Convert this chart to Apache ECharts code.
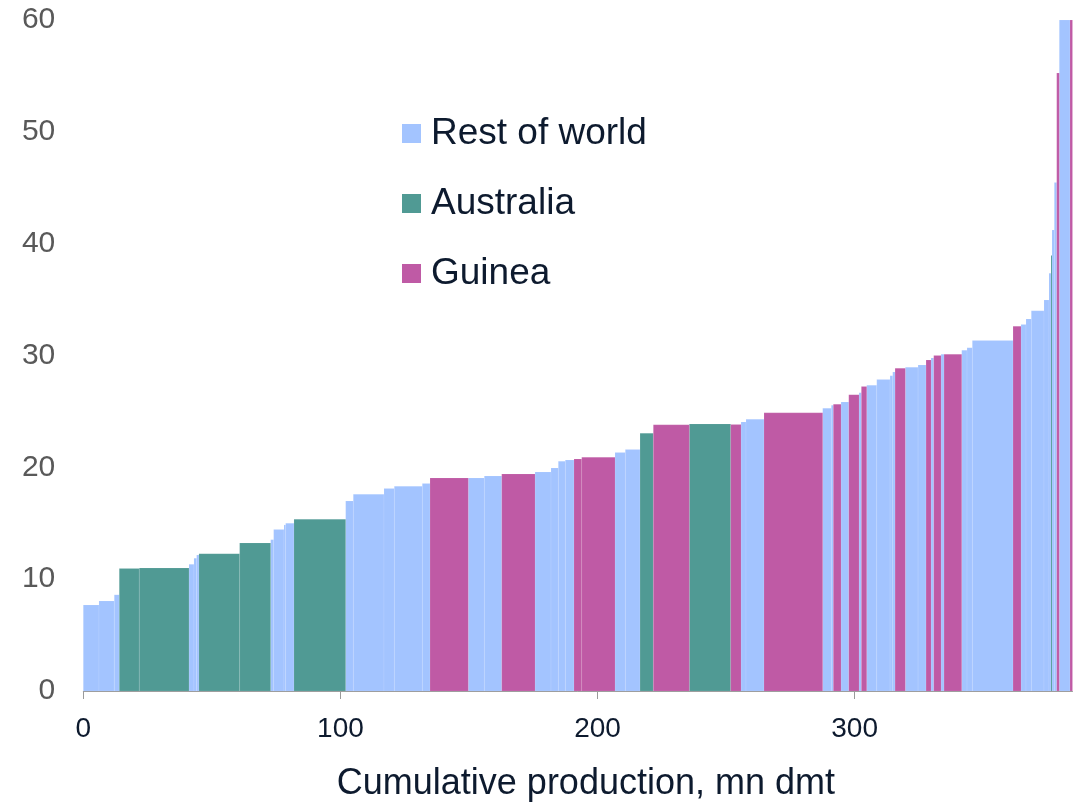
<!DOCTYPE html>
<html>
<head>
<meta charset="utf-8">
<script src="https://cdn.jsdelivr.net/npm/echarts@6/dist/echarts.min.js"></script>
<style>html,body{margin:0;padding:0;background:#fff}#c{width:1076px;height:803px}</style>
</head>
<body>
<div id="c"></div>
<script>
// Production of each mine (mn dmt), in cost order
const widths = [6.1,5.95,1.94,7.78,19.33,1.94,1.05,0.89,15.83,12.06,1.17,4.01,0.66,3.23,20.11,2.96,11.94,4.01,10.89,3.0,14.9,6.22,6.77,12.95,6.22,2.84,2.72,3.38,3.0,12.95,4.01,5.72,5.17,14.0,16.1,4.01,1.94,7.0,22.83,3.35,0.78,3.0,3.0,4.0,0.9,2.1,3.89,5.17,1.05,0.9,4.0,4.94,3.11,1.94,1.05,2.84,1.17,6.88,2.06,2.06,15.83,3.11,1.94,2.06,4.94,1.94,0.78,0.39,0.9,0.93,1.01,4.16,0.97];
// Cost of each mine
const costs = [7.7,8.05,8.6,10.95,11.0,11.33,11.87,12.16,12.28,13.24,13.53,14.43,14.85,15.0,15.35,17.0,17.59,18.1,18.3,18.55,19.05,19.05,19.23,19.41,19.59,19.95,20.54,20.66,20.75,20.9,21.32,21.6,23.05,23.8,23.88,23.82,24.06,24.3,24.87,25.29,25.55,25.65,25.84,26.5,26.66,27.23,27.34,27.85,28.18,28.53,28.86,28.95,29.16,29.6,29.78,30.0,30.11,30.11,30.47,30.69,31.35,32.61,32.77,33.27,34.0,34.97,37.36,38.94,41.23,45.47,55.25,62.0,65.0];
// Region of each mine: R = Rest of world, A = Australia, G = Guinea
const regions = ['R','R','R','A','A','R','R','R','A','A','R','R','R','R','A','R','R','R','R','R','G','R','R','G','R','R','R','R','G','G','R','R','A','G','A','G','R','R','G','R','R','G','R','G','R','G','R','R','R','R','G','R','R','G','R','G','R','G','R','R','R','G','R','R','R','R','R','A','R','R','G','R','G'];
const regionNames = {R: 'Rest of world', A: 'Australia', G: 'Guinea'};
const regionColors = {R: '#A3C4FF', A: '#509A94', G: '#BF5AA5'};
const xTicks = [0, 100, 200, 300];
const yMax = 60;

const seriesData = {R: [], A: [], G: []};
let cum = 0;
for (let i = 0; i < widths.length; i++) {
  const s = cum, e = cum + widths[i];
  seriesData[regions[i]].push([s, e, costs[i]]);
  cum = e;
}
const total = cum;

function renderItem(params, api) {
  const x0 = api.value(0), x1 = api.value(1), y = api.value(2);
  const p0 = api.coord([x0, 0]);
  const p1 = api.coord([x1, y]);
  const cs = params.coordSys;
  const rect = echarts.graphic.clipRectByRect(
    {x: p0[0], y: p1[1], width: p1[0] - p0[0], height: p0[1] - p1[1]},
    {x: cs.x, y: cs.y, width: cs.width, height: cs.height}
  );
  if (!rect) return;
  return {
    type: 'rect',
    shape: rect,
    style: {fill: api.visual('color'), stroke: 'rgba(255,255,255,0.12)', lineWidth: 0.8}
  };
}

const FONT = "'Liberation Sans', Arial, sans-serif";
const chart = echarts.init(document.getElementById('c'), null, {renderer: 'canvas'});
chart.setOption({
  animation: false,
  backgroundColor: '#ffffff',
  grid: {left: 83.3, right: 3.5, top: 20, bottom: 112, containLabel: false, outerBoundsMode: 'none'},
  legend: {
    orient: 'vertical',
    left: 402,
    top: 115,
    padding: 0,
    icon: 'rect',
    itemWidth: 19,
    itemHeight: 19,
    itemGap: 33,
    selectedMode: false,
    data: ['Rest of world', 'Australia', 'Guinea'],
    textStyle: {fontFamily: FONT, fontSize: 37, color: '#0D1A2E', padding: [0, 0, 0, 5]}
  },
  xAxis: {
    type: 'value',
    min: 0,
    max: total,
    interval: 100,
    name: 'Cumulative production, mn dmt',
    nameLocation: 'middle',
    nameGap: 75,
    nameTextStyle: {fontFamily: FONT, fontSize: 36, color: '#0D1A2E', padding: [0, 0, 0, 16]},
    splitLine: {show: false},
    axisLine: {show: true, lineStyle: {color: '#9A9A9A', width: 1}},
    axisTick: {show: true, length: 8, lineStyle: {color: '#9A9A9A'}, customValues: xTicks},
    axisLabel: {fontFamily: FONT, fontSize: 28, color: '#0D1A2E', margin: 24, customValues: xTicks}
  },
  yAxis: {
    type: 'value',
    min: 0,
    max: yMax,
    interval: 10,
    splitLine: {show: false},
    axisLine: {show: false},
    axisTick: {show: false},
    axisLabel: {fontFamily: FONT, fontSize: 30, color: '#595959', margin: 28}
  },
  series: ['R', 'A', 'G'].map(k => ({
    type: 'custom',
    name: regionNames[k],
    renderItem: renderItem,
    itemStyle: {color: regionColors[k]},
    encode: {x: [0, 1], y: 2},
    data: seriesData[k]
  }))
});
</script>
</body>
</html>
